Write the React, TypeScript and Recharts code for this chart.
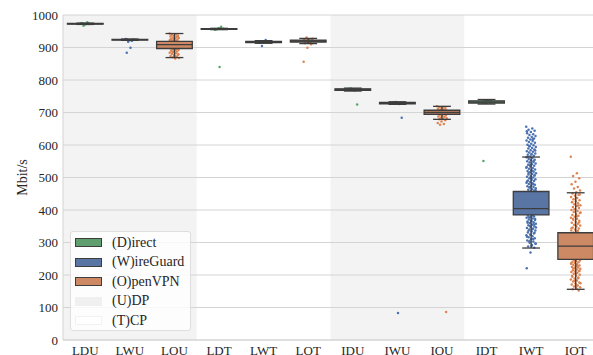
import React from 'react';
import {
  ComposedChart,
  XAxis,
  YAxis,
  CartesianGrid,
  Scatter,
  ReferenceArea,
  ReferenceLine,
  Legend,
  Label,
} from 'recharts';

// ---------- data ----------
const categories = ['LDU', 'LWU', 'LOU', 'LDT', 'LWT', 'LOT', 'IDU', 'IWU', 'IOU', 'IDT', 'IWT', 'IOT'];
// 0 = Direct, 1 = WireGuard, 2 = OpenVPN
const seriesOfCategory = [0, 1, 2, 0, 1, 2, 0, 1, 2, 0, 1, 2];
const seriesNames = ['(D)irect', '(W)ireGuard', '(O)penVPN'];
const protocolNames = ['(U)DP', '(T)CP'];
// UDP category spans (index ranges)
const udpSpans = [[0, 2], [6, 8]];

// box statistics (Mbit/s)
const boxQ1 = [972, 923, 897, 956, 915, 917, 768, 727, 694, 729, 385, 248];
const boxMedian = [973, 924, 909, 957, 917, 920, 771, 729, 700, 732, 404, 289];
const boxQ3 = [974, 925, 919, 958, 919, 923, 773, 731, 707, 736, 457, 330];
const whiskerLow = [971, 922, 869, 955, 913, 912, 766, 725, 679, 726, 283, 156];
const whiskerHigh = [975, 926, 943, 959, 921, 928, 775, 733, 719, 740, 563, 453];

// individual measurements (strip points)
const stripLDU = [973, 972, 974, 973, 971, 975, 978, 967, 972, 973, 974, 972];
const stripLWU = [924, 923, 925, 924, 922, 926, 921, 918, 924, 899, 884, 923];
const stripLOU = [943, 941, 939, 937, 936, 934, 932, 931, 929, 928, 926, 925, 923, 922, 921, 920, 918, 916, 914, 912, 910, 908, 906, 904, 902, 900, 898, 896, 895, 893, 891, 890, 888, 886, 884, 882, 880, 878, 876, 874, 872, 870, 868, 866, 940, 935, 927, 924, 894, 887, 879, 873];
const stripLDT = [957, 958, 956, 957, 959, 955, 964, 957, 958, 840];
const stripLWT = [917, 918, 916, 917, 919, 915, 923, 905, 918, 916];
const stripLOT = [920, 921, 919, 922, 918, 923, 917, 931, 927, 925, 913, 910, 899, 856, 920, 921];
const stripIDU = [771, 770, 772, 771, 769, 773, 768, 774, 725, 771];
const stripIWU = [729, 728, 730, 729, 727, 731, 726, 732, 684, 83];
const stripIOU = [719, 717, 716, 714, 712, 711, 709, 708, 706, 704, 702, 700, 698, 696, 695, 693, 691, 689, 688, 686, 684, 682, 680, 679, 676, 672, 668, 665, 662, 86];
const stripIDT = [732, 733, 735, 731, 734, 730, 736, 729, 737, 733, 551];
const stripIWT = [
  656, 651, 647, 644, 640, 636, 633, 631, 628, 625, 622, 620, 617, 614, 612, 609, 607, 604, 601, 599,
  596, 594, 591, 589, 586, 584, 581, 579, 577, 574, 572, 570, 567, 565, 562, 560, 557, 555, 553, 550,
  548, 546, 543, 541, 539, 536, 534, 532, 529, 527, 525, 522, 520, 518, 516, 513, 511, 509, 507, 504,
  502, 500, 498, 495, 493, 491, 489, 486, 484, 482, 480, 478, 475, 473, 471, 469, 467, 464, 462, 460,
  458, 642, 618, 597, 583, 571, 563, 551, 538, 530, 521, 514, 506, 497, 488, 479, 470, 461,
  384, 382, 380, 378, 376, 374, 371, 369, 367, 365, 362, 360, 358, 355, 353, 350, 348, 345, 343, 340,
  337, 334, 331, 328, 325, 322, 319, 316, 313, 310, 306, 303, 299, 296, 292, 288, 284, 269, 221, 383,
  377, 372, 366, 361, 356, 351, 346, 341, 336, 330, 324, 318, 311, 304, 297, 290, 420, 440, 400,
];
const stripIOT = [
  564, 513, 505, 498, 487, 479, 471, 466, 460, 455, 451, 447, 444, 440, 437, 433, 430, 427, 424, 421,
  418, 415, 412, 409, 406, 403, 400, 397, 394, 391, 388, 385, 382, 379, 376, 373, 370, 367, 364, 361,
  358, 355, 352, 349, 346, 343, 340, 337, 334, 331, 448, 436, 425, 414, 402, 392, 381, 372, 362, 353,
  344, 336, 247, 245, 243, 241, 239, 237, 235, 233, 231, 229, 227, 225, 223, 221, 219, 217, 215, 213,
  211, 209, 207, 204, 201, 198, 195, 192, 189, 186, 183, 180, 177, 174, 171, 168, 165, 162, 159, 156,
  152, 244, 236, 228, 220, 212, 205, 197, 190, 182, 175, 168, 300, 280, 310,
];
const strips = [stripLDU, stripLWU, stripLOU, stripLDT, stripLWT, stripLOT, stripIDU, stripIWU, stripIOU, stripIDT, stripIWT, stripIOT];

const yTicks = [0, 100, 200, 300, 400, 500, 600, 700, 800, 900, 1000];

// ---------- styles ----------
const pointColors = ['#55a868', '#4c72b0', '#dd8452'];
const boxColors = ['#5f9e6e', '#5875a4', '#cc8963'];
const edge = '#3d3d3d';
const FONT = '"Liberation Serif", "Times New Roman", serif';
const gridColor = '#d4d4d4';

const jitter = (k: number) => (((k * 0.6180339887) % 1) - 0.5) * 0.22;

const pointsBySeries = [0, 1, 2].map((s) =>
  strips.flatMap((vals, ci) =>
    seriesOfCategory[ci] === s ? vals.map((v, k) => ({ x: ci + jitter(k), y: v })) : []
  )
);

const makeDot = (color: string) => (props: any) => {
  if (props.cx == null || props.cy == null) return <g />;
  return <circle cx={props.cx} cy={props.cy} r={1.25} fill={color} />;
};

const LegendBox = () => (
  <div
    style={{
      width: 121,
      height: 100,
      boxSizing: 'border-box',
      background: 'rgba(255,255,255,0.8)',
      border: '1px solid #dedede',
      borderRadius: 3,
      paddingTop: 1,
      fontFamily: FONT,
      fontSize: 14,
      color: '#262626',
    }}
  >
    {seriesNames.map((n, i) => (
      <div key={n} style={{ height: 19.5, display: 'flex', alignItems: 'center' }}>
        <div
          style={{
            marginLeft: 4,
            width: 27,
            height: 9,
            boxSizing: 'border-box',
            background: boxColors[i],
            border: `1px solid ${edge}`,
          }}
        />
        <span style={{ marginLeft: 10 }}>{n}</span>
      </div>
    ))}
    {protocolNames.map((n, i) => (
      <div key={n} style={{ height: 19.5, display: 'flex', alignItems: 'center' }}>
        <div
          style={{
            marginLeft: 4,
            width: 27,
            height: 9,
            boxSizing: 'border-box',
            background: i === 0 ? '#f0f0f0' : '#ffffff',
            border: i === 0 ? '1px solid #f0f0f0' : '1px solid #f2f2f2',
          }}
        />
        <span style={{ marginLeft: 10 }}>{n}</span>
      </div>
    ))}
  </div>
);

export default function App() {
  return (
    <div
      style={{
        position: 'absolute',
        left: 0,
        top: 0,
        width: 593,
        height: 355,
        overflow: 'hidden',
        background: '#ffffff',
      }}
    >
      <ComposedChart width={603} height={370} margin={{ top: 15, right: 5, bottom: 0, left: 0 }}>
        {udpSpans.map(([a, b], i) => (
          <ReferenceArea
            key={'udp' + i}
            x1={a - 0.5}
            x2={b + 0.5}
            y1={0}
            y2={1000}
            fill="#000000"
            fillOpacity={0.047}
            stroke="none"
            zIndex={-150}
          />
        ))}
        <CartesianGrid vertical={false} stroke={gridColor} strokeWidth={1} />
        <XAxis
          type="number"
          dataKey="x"
          domain={[-0.5, 11.5]}
          ticks={categories.map((_, i) => i)}
          interval={0}
          tickFormatter={(v: number) => categories[v] ?? ''}
          tickSize={0}
          tickMargin={6}
          axisLine={{ stroke: gridColor }}
          tick={{ fontFamily: FONT, fontSize: 13, fill: '#262626' }}
          allowDataOverflow
        />
        <YAxis
          type="number"
          dataKey="y"
          domain={[0, 1000]}
          ticks={yTicks}
          interval={0}
          width={63}
          tickSize={0}
          tickMargin={5}
          axisLine={{ stroke: gridColor }}
          tick={{ fontFamily: FONT, fontSize: 13, fill: '#262626' }}
          allowDataOverflow
        >
          <Label
            position="center"
            content={(p: any) => {
              const vb = p && p.viewBox ? p.viewBox : { x: 0, y: 15, width: 63, height: 325 };
              const cx = vb.x + 22;
              const cy = vb.y + vb.height / 2;
              return (
                <text
                  x={cx}
                  y={cy}
                  transform={`rotate(-90, ${cx}, ${cy})`}
                  textAnchor="middle"
                  dominantBaseline="central"
                  fontFamily={FONT}
                  fontSize={14}
                  fill="#262626"
                >
                  Mbit/s
                </text>
              );
            }}
          />
        </YAxis>
        {pointsBySeries.map((pts, s) => (
          <Scatter
            key={'pts' + s}
            name={seriesNames[s]}
            data={pts}
            dataKey="y"
            shape={makeDot(pointColors[s])}
            isAnimationActive={false}
            legendType="none"
          />
        ))}
        {categories.map((c, i) => (
          <ReferenceArea
            key={'box' + c}
            x1={i - 0.4}
            x2={i + 0.4}
            y1={boxQ1[i]}
            y2={boxQ3[i]}
            fill={boxColors[seriesOfCategory[i]]}
            fillOpacity={1}
            stroke={edge}
            strokeWidth={1.3}
            zIndex={650}
          />
        ))}
        {categories.map((c, i) => (
          <ReferenceLine
            key={'wl' + c}
            segment={[
              { x: i, y: whiskerLow[i] },
              { x: i, y: boxQ1[i] },
            ]}
            stroke={edge}
            strokeWidth={1.3}
            zIndex={700}
          />
        ))}
        {categories.map((c, i) => (
          <ReferenceLine
            key={'wh' + c}
            segment={[
              { x: i, y: boxQ3[i] },
              { x: i, y: whiskerHigh[i] },
            ]}
            stroke={edge}
            strokeWidth={1.3}
            zIndex={700}
          />
        ))}
        {categories.map((c, i) => (
          <ReferenceLine
            key={'cl' + c}
            segment={[
              { x: i - 0.2, y: whiskerLow[i] },
              { x: i + 0.2, y: whiskerLow[i] },
            ]}
            stroke={edge}
            strokeWidth={1.3}
            zIndex={700}
          />
        ))}
        {categories.map((c, i) => (
          <ReferenceLine
            key={'ch' + c}
            segment={[
              { x: i - 0.2, y: whiskerHigh[i] },
              { x: i + 0.2, y: whiskerHigh[i] },
            ]}
            stroke={edge}
            strokeWidth={1.3}
            zIndex={700}
          />
        ))}
        {categories.map((c, i) => (
          <ReferenceLine
            key={'md' + c}
            segment={[
              { x: i - 0.4, y: boxMedian[i] },
              { x: i + 0.4, y: boxMedian[i] },
            ]}
            stroke={edge}
            strokeWidth={1.3}
            zIndex={700}
          />
        ))}
        <Legend
          layout="vertical"
          align="center"
          verticalAlign="middle"
          content={() => <LegendBox />}
          wrapperStyle={{ left: 70, top: 231, width: 121, height: 100, right: 'auto', bottom: 'auto' }}
        />
      </ComposedChart>
    </div>
  );
}
